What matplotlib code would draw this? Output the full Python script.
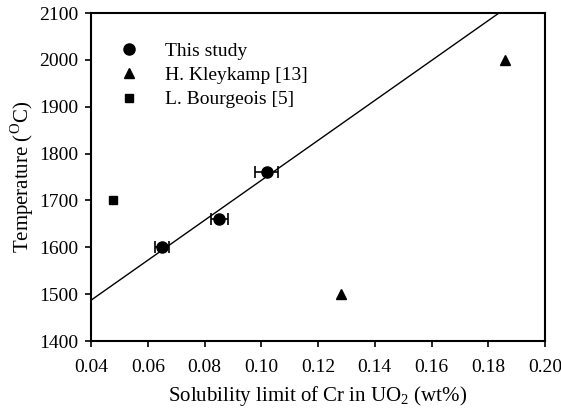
import matplotlib
matplotlib.use("Agg")
import matplotlib.pyplot as plt
from matplotlib.lines import Line2D
import numpy as np

plt.rcParams['font.family'] = ['Liberation Serif', 'DejaVu Serif']
plt.rcParams['mathtext.fontset'] = 'custom'
plt.rcParams['mathtext.rm'] = 'Liberation Serif'

# This study
study_x = [0.0651, 0.0852, 0.1019]
study_y = [1600, 1660, 1760]
study_xerr = [0.0025, 0.003, 0.004]
# H. Kleykamp [13]
kley_x = [0.128, 0.186]
kley_y = [1500, 2000]
# L. Bourgeois [5]
bour_x = [0.0478]
bour_y = [1700]
# Trend line (slope, intercept)
trend_slope = 4263.0
trend_intercept = 1316.5

x_ticks = [0.04, 0.06, 0.08, 0.10, 0.12, 0.14, 0.16, 0.18, 0.20]
y_ticks = [1400, 1500, 1600, 1700, 1800, 1900, 2000, 2100]

fig = plt.figure(figsize=(5.61, 4.12), dpi=100)
ax = fig.add_axes([91/561, 1-341/412, (545-91)/561, (341-13)/412])

lx = np.array([0.04, 0.20])
ax.plot(lx, trend_slope*lx + trend_intercept, color='black', lw=1.0, zorder=1)

ax.errorbar(study_x, study_y, xerr=study_xerr, fmt='o', color='black',
            ms=8, capsize=4, elinewidth=1.2, capthick=1.2, zorder=3)
ax.plot(kley_x, kley_y, '^', color='black', ms=6.5, ls='none')
ax.plot(bour_x, bour_y, 's', color='black', ms=5.5, ls='none')

ax.set_xlim(0.04, 0.20)
ax.set_ylim(1400, 2100)
ax.set_xticks(x_ticks)
ax.set_xticklabels([f"{v:.2f}" for v in x_ticks])
ax.set_yticks(y_ticks)
ax.tick_params(direction='out', length=4, width=1.2, labelsize=14)
ax.tick_params(axis='x', pad=9)
ax.tick_params(axis='y', pad=5)
for s in ax.spines.values():
    s.set_linewidth(1.5)

ax.set_xlabel(r'Solubility limit of Cr in UO$_2$ (wt%)', fontsize=15, labelpad=6)
ax.set_ylabel(r'Temperature ($^\mathrm{O}$C)', fontsize=15, labelpad=2)

handles = [
    Line2D([], [], marker='o', color='black', ls='none', ms=8),
    Line2D([], [], marker='^', color='black', ls='none', ms=6.5),
    Line2D([], [], marker='s', color='black', ls='none', ms=5.5),
]
labels = ['This study', 'H. Kleykamp [13]', 'L. Bourgeois [5]']
ax.legend(handles, labels, loc='upper left', bbox_to_anchor=(0.012, 0.965), frameon=False,
          fontsize=14, handletextpad=1.15, labelspacing=0.35, handlelength=1.5)

fig.savefig('out.png', dpi=100)
